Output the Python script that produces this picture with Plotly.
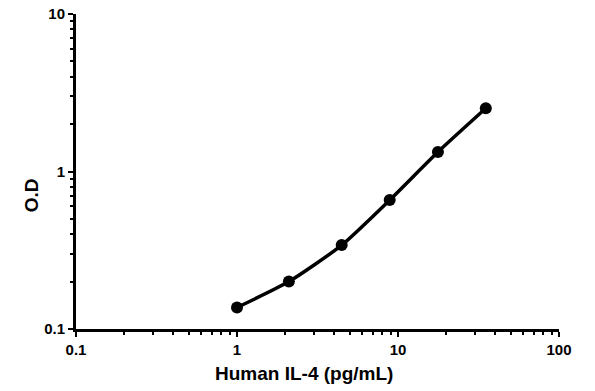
import plotly.graph_objects as go

concentration = [1.0, 2.1, 4.47, 8.88, 17.7, 35.1]
od = [0.137, 0.200, 0.341, 0.659, 1.33, 2.52]
x_tick_vals = [0.1, 1, 10, 100]
x_tick_text = ["0.1", "1", "10", "100"]
y_tick_vals = [0.1, 1, 10]
y_tick_text = ["0.1", "1", "10"]
x_minor_vals = [m * d for d in (0.1, 1, 10) for m in range(2, 10)]
y_minor_vals = [m * d for d in (0.1, 1) for m in range(2, 10)]

fig = go.Figure()
fig.add_trace(go.Scatter(
    x=concentration, y=od, mode="lines+markers",
    line=dict(color="black", width=3.5, shape="spline", smoothing=0.6),
    marker=dict(color="black", size=12),
    showlegend=False,
))

font_family = "Liberation Sans, Arial, sans-serif"
axis_common = dict(
    type="log", showline=True, linecolor="black", linewidth=3,
    ticks="outside", ticklen=5, tickwidth=2, tickcolor="black",
    showgrid=False, zeroline=False, automargin=False,
    tickfont=dict(family=font_family, size=15, color="black", weight="bold"),
)

fig.update_xaxes(
    range=[-1, 2], tickvals=x_tick_vals, ticktext=x_tick_text,
    minor=dict(tickvals=x_minor_vals, ticks="outside", ticklen=3, tickwidth=2,
               tickcolor="black", showgrid=False),
    **axis_common,
)
fig.update_yaxes(
    range=[-1, 1], tickvals=y_tick_vals, ticktext=y_tick_text,
    minor=dict(tickvals=y_minor_vals, ticks="outside", ticklen=3, tickwidth=2,
               tickcolor="black", showgrid=False),
    **axis_common,
)

title_font = dict(family=font_family, size=19, color="black", weight="bold")
fig.add_annotation(text="Human IL-4 (pg/mL)", xref="paper", yref="paper",
                   x=0.472, y=-0.14, showarrow=False, font=title_font,
                   xanchor="center", yanchor="middle")
fig.add_annotation(text="O.D", xref="paper", yref="paper",
                   x=-0.093, y=0.425, showarrow=False, font=title_font,
                   textangle=-90, xanchor="center", yanchor="middle")

fig.update_layout(
    width=595, height=391,
    margin=dict(l=76, r=36, t=14, b=62),
    paper_bgcolor="white", plot_bgcolor="white",
)

fig.write_html("out.html",
               config={"displayModeBar": False},
               post_script="document.body.style.margin='0';document.body.style.overflow='hidden';")
